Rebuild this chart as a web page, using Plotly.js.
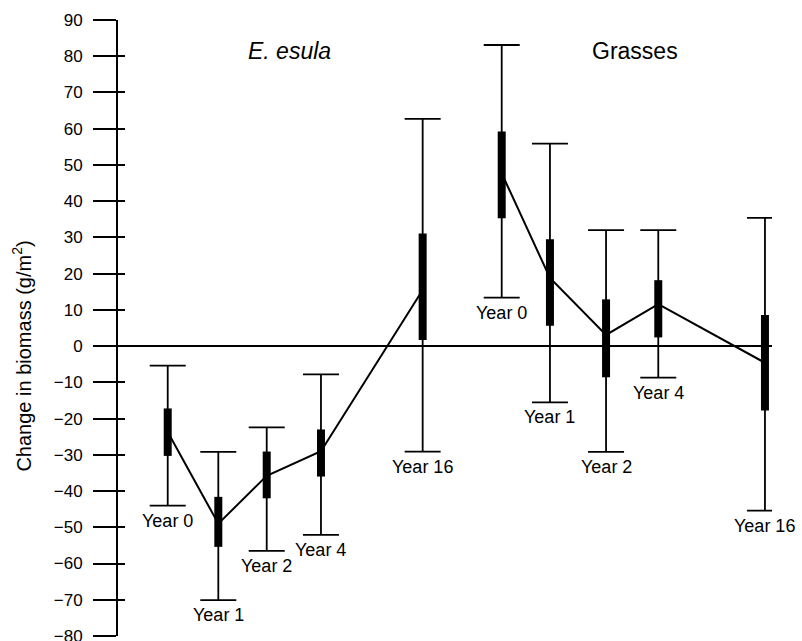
<!DOCTYPE html>
<html>
<head>
<meta charset="utf-8">
<script src="https://cdn.plot.ly/plotly-3.0.1.min.js"></script>
<style>html,body{margin:0;padding:0;background:#fff;}#chart{width:802px;height:641px;}</style>
</head>
<body>
<div id="chart"></div>
<script>
// ---- data ----
const yearLabels = ["Year 0", "Year 1", "Year 2", "Year 4", "Year 16"];

// horizontal placement of each group (slot units along a hidden axis)
const esulaPos = [0.975, 1.967, 2.916, 3.98, 5.974];
const grassPos = [7.524, 8.47, 9.57, 10.594, 12.686];

// E. esula
const esulaMean    = [-23.7, -49.0, -35.8, -29.0, 15.5];
const esulaBoxHi   = [-17.2, -41.6, -29.1, -23.0, 31.1];
const esulaBoxLo   = [-30.3, -55.4, -42.0, -36.0, 1.7];
const esulaWhiskHi = [-5.4, -29.2, -22.4, -7.8, 62.7];
const esulaWhiskLo = [-44.0, -70.1, -56.5, -52.1, -29.1];

// Grasses
const grassMean    = [47.7, 18.8, 3.1, 11.6, -4.6];
const grassBoxHi   = [59.2, 29.5, 12.9, 18.2, 8.6];
const grassBoxLo   = [35.3, 5.6, -8.6, 2.4, -17.8];
const grassWhiskHi = [83.1, 55.9, 32.0, 32.0, 35.4];
const grassWhiskLo = [13.4, -15.5, -29.2, -8.7, -45.4];

const groupTitles = ["<i>E. esula</i>", "Grasses"];
const yTitle = "Change in biomass (g/m<sup>2</sup>)";

// ---- build ----
const FONT = "Liberation Sans, Arial, Helvetica, sans-serif";
const diff = (a, b) => a.map((v, i) => v - b[i]);

function groupTraces(pos, mean, bHi, bLo, wHi, wLo, name) {
  return [
    { // whiskers
      x: pos, y: mean, type: "scatter", mode: "markers", name: name + " range",
      marker: { size: 1, color: "rgba(0,0,0,0)" }, showlegend: false, hoverinfo: "skip",
      error_y: { type: "data", symmetric: false, array: diff(wHi, mean), arrayminus: diff(mean, wLo),
                 width: 18, thickness: 1.8, color: "#000" }
    },
    { // thick boxes
      x: pos, y: mean, type: "scatter", mode: "markers", name: name + " box",
      marker: { size: 1, color: "rgba(0,0,0,0)" }, showlegend: false, hoverinfo: "skip",
      error_y: { type: "data", symmetric: false, array: diff(bHi, mean), arrayminus: diff(mean, bLo),
                 width: 0, thickness: 8, color: "#000" }
    },
    { // connecting line through means
      x: pos, y: mean, type: "scatter", mode: "lines", name: name,
      line: { color: "#000", width: 2 }, showlegend: false
    }
  ];
}

const traces = [
  ...groupTraces(esulaPos, esulaMean, esulaBoxHi, esulaBoxLo, esulaWhiskHi, esulaWhiskLo, "E. esula"),
  ...groupTraces(grassPos, grassMean, grassBoxHi, grassBoxLo, grassWhiskHi, grassWhiskLo, "Grasses"),
  { x: [0], y: [0], type: "scatter", mode: "markers", marker: { size: 1, color: "rgba(0,0,0,0)" },
    yaxis: "y2", showlegend: false, hoverinfo: "skip" }
];

const annotations = [];
function yearNotes(pos, lo) {
  pos.forEach((p, i) => annotations.push({
    x: p, y: lo[i], xref: "x", yref: "y", text: yearLabels[i], showarrow: false,
    xanchor: "center", yanchor: "top", yshift: -3,
    font: { family: FONT, size: 18, color: "#000" }
  }));
}
yearNotes(esulaPos, esulaWhiskLo);
yearNotes(grassPos, grassWhiskLo);

annotations.push(
  { x: 3.353, y: 81.5, xref: "x", yref: "y", text: groupTitles[0], showarrow: false,
    xanchor: "center", yanchor: "middle", font: { family: FONT, size: 23, color: "#000" } },
  { x: 10.137, y: 81.5, xref: "x", yref: "y", text: groupTitles[1], showarrow: false,
    xanchor: "center", yanchor: "middle", font: { family: FONT, size: 23, color: "#000" } },
  { x: -0.147, y: 0.455, xref: "paper", yref: "paper", text: yTitle, showarrow: false,
    textangle: -90, xanchor: "center", yanchor: "middle", font: { family: FONT, size: 20, color: "#000" } }
);

const layout = {
  width: 802, height: 641,
  margin: { l: 118, r: 30, t: 20, b: 5 },
  paper_bgcolor: "#fff", plot_bgcolor: "#fff",
  showlegend: false,
  font: { family: FONT, color: "#000" },
  xaxis: { range: [0, 12.824], visible: false, fixedrange: true },
  yaxis: {
    range: [-80, 90], dtick: 10, tick0: 0,
    showline: true, linewidth: 2, linecolor: "#000",
    ticks: "outside", ticklen: 23, tickwidth: 2, tickcolor: "#000",
    showgrid: false, zeroline: true, zerolinewidth: 1.5, zerolinecolor: "#000",
    tickfont: { family: FONT, size: 17, color: "#000" }, ticklabelstandoff: 7,
    ticklabeloverflow: "allow"
  },
  yaxis2: {
    overlaying: "y", anchor: "x", side: "left",
    range: [-80, 90], dtick: 10, tick0: 0,
    ticks: "inside", ticklen: 7, tickwidth: 2, tickcolor: "#000",
    showticklabels: false, showline: false, showgrid: false, zeroline: false
  },
  annotations: annotations
};

Plotly.newPlot("chart", traces, layout, { staticPlot: true, displayModeBar: false });
</script>
</body>
</html>
